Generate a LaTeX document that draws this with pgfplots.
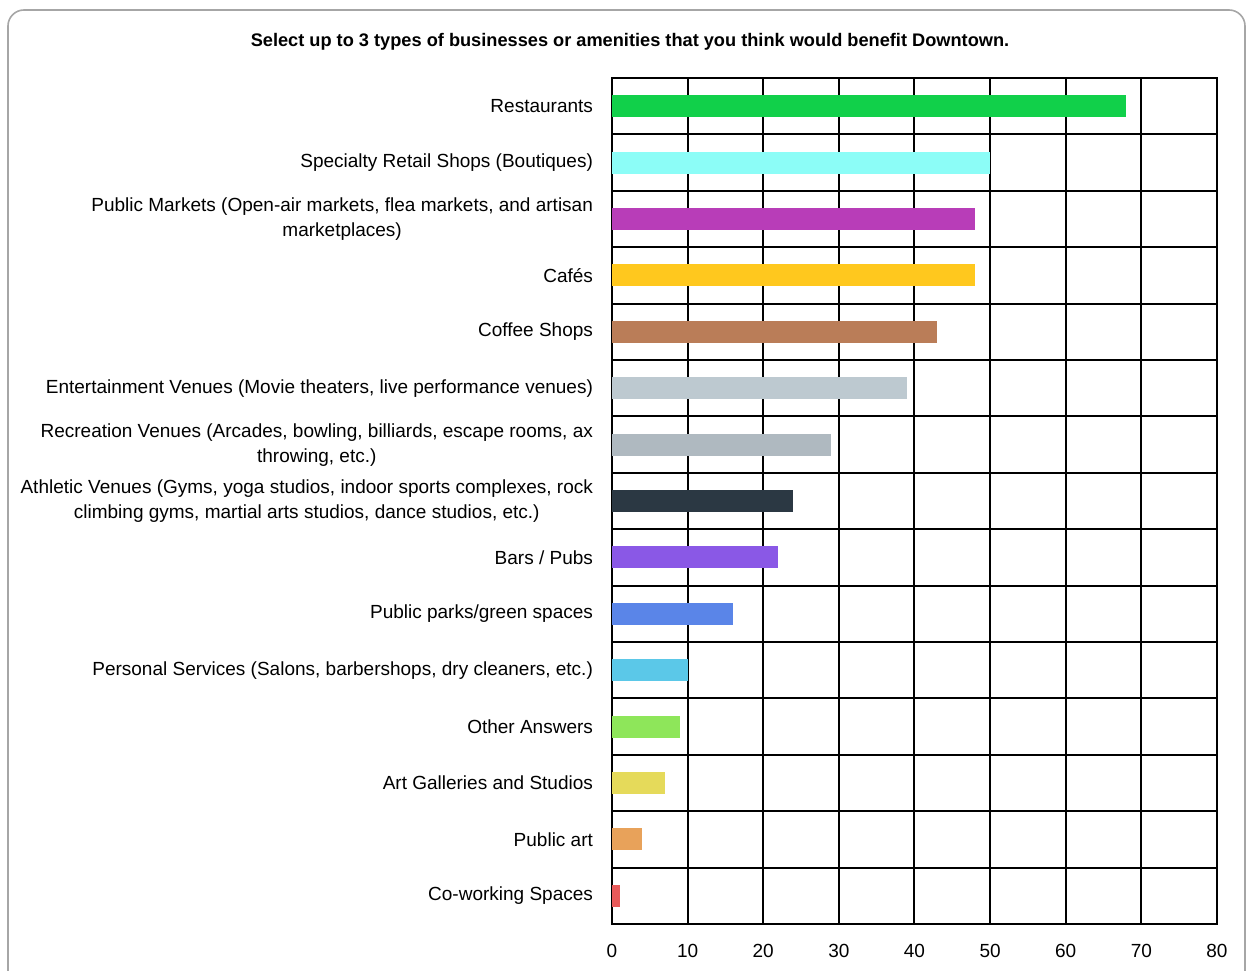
\documentclass[border=0pt]{standalone}
\usepackage{pgfplots}
\pgfplotsset{compat=1.18}
\usepackage{fontspec}
\setmainfont{Liberation Sans}
\definecolor{c1}{HTML}{11D04A}
\definecolor{c2}{HTML}{8CFDF7}
\definecolor{c3}{HTML}{B83DB8}
\definecolor{c4}{HTML}{FFC81E}
\definecolor{c5}{HTML}{BA7D58}
\definecolor{c6}{HTML}{BDC9D0}
\definecolor{c7}{HTML}{AFB9C0}
\definecolor{c8}{HTML}{2B3843}
\definecolor{c9}{HTML}{8A58E6}
\definecolor{c10}{HTML}{5A85E8}
\definecolor{c11}{HTML}{5BC8E8}
\definecolor{c12}{HTML}{8EE65A}
\definecolor{c13}{HTML}{E5DA5A}
\definecolor{c14}{HTML}{E8A25A}
\definecolor{c15}{HTML}{E85A5A}
\begin{document}
\begin{tikzpicture}
\path[use as bounding box] (0pt,0pt) rectangle (624pt,485pt);
\draw[gray!70, line width=0.8pt, rounded corners=8pt] (4pt,-20pt) rectangle (622.5pt,480pt);
\node[font=\fontsize{9.1}{11}\selectfont\bfseries] at (315pt,464pt) {Select up to 3 types of businesses or amenities that you think would benefit Downtown.};
\begin{axis}[
  at={(306pt,23pt)}, anchor=south west,
  scale only axis, width=302.5pt, height=423pt,
  xmin=0, xmax=80, ymin=-0.5, ymax=14.5,
  y dir=reverse,
  xbar, bar width=11pt, bar shift=0pt,
  xtick={0,10,...,80},
  ytick={0,...,14},
  yticklabels={
    Restaurants,
    Specialty Retail Shops (Boutiques),
    {Public Markets (Open-air markets, flea markets, and artisan\\marketplaces)},
    Cafés,
    Coffee Shops,
    {Entertainment Venues (Movie theaters, live performance venues)},
    {Recreation Venues (Arcades, bowling, billiards, escape rooms, ax\\throwing, etc.)},
    {Athletic Venues (Gyms, yoga studios, indoor sports complexes, rock\\climbing gyms, martial arts studios, dance studios, etc.)},
    Bars / Pubs,
    Public parks/green spaces,
    {Personal Services (Salons, barbershops, dry cleaners, etc.)},
    Other Answers,
    Art Galleries and Studios,
    Public art,
    Co-working Spaces},
  minor ytick={-0.5,0.5,...,14.5},
  xmajorgrids, yminorgrids,
  major grid style={black, line width=1pt},
  minor grid style={black, line width=1pt},
  axis line style={black, line width=1pt},
  major tick length=0pt, minor tick length=0pt,
  tick label style={font=\fontsize{9.5}{12.5}\selectfont},
  yticklabel style={align=center, xshift=-6pt},
  xticklabel style={yshift=-6.5pt},
  /pgf/number format/assume math mode=true,
  every axis plot/.append style={draw=none},
]
\addplot[fill=c1] coordinates {(68,0)};
\addplot[fill=c2] coordinates {(50,1)};
\addplot[fill=c3] coordinates {(48,2)};
\addplot[fill=c4] coordinates {(48,3)};
\addplot[fill=c5] coordinates {(43,4)};
\addplot[fill=c6] coordinates {(39,5)};
\addplot[fill=c7] coordinates {(29,6)};
\addplot[fill=c8] coordinates {(24,7)};
\addplot[fill=c9] coordinates {(22,8)};
\addplot[fill=c10] coordinates {(16,9)};
\addplot[fill=c11] coordinates {(10,10)};
\addplot[fill=c12] coordinates {(9,11)};
\addplot[fill=c13] coordinates {(7,12)};
\addplot[fill=c14] coordinates {(4,13)};
\addplot[fill=c15] coordinates {(1,14)};
\end{axis}
\end{tikzpicture}
\end{document}
